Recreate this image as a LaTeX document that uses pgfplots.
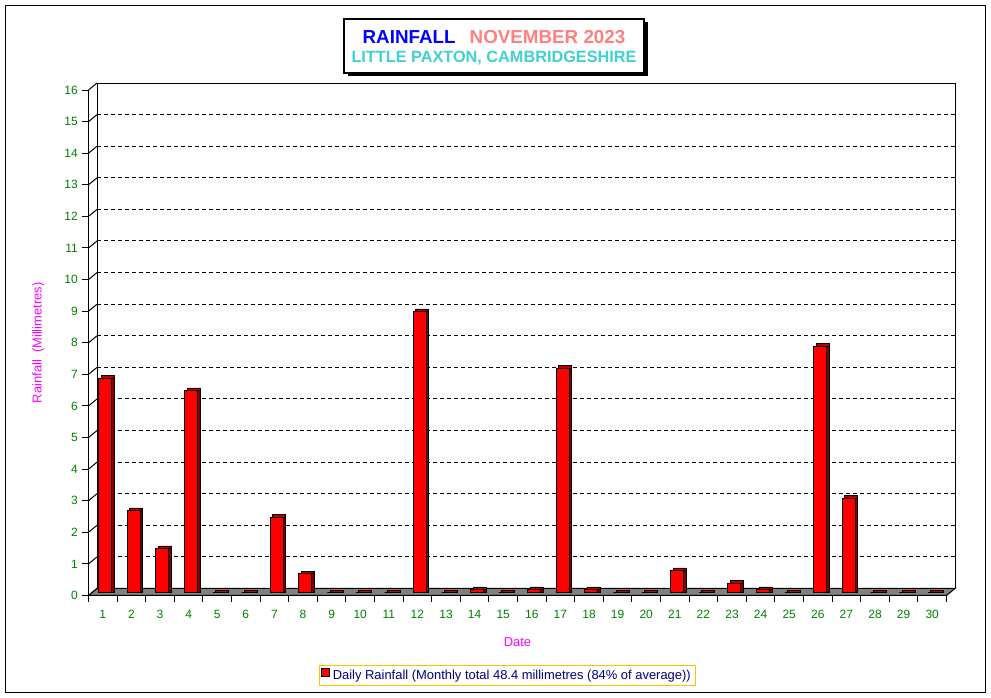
\documentclass[border=0pt]{standalone}
\usepackage{pgfplots}
\pgfplotsset{compat=1.18}
\usepackage{pgfplotstable}
\usepackage{fontspec}
\setmainfont{Liberation Sans}

\definecolor{tickgreen}{RGB}{0,128,0}
\definecolor{labmag}{RGB}{255,0,255}
\definecolor{sidered}{RGB}{128,0,0}
\definecolor{topred}{RGB}{190,0,0}
\definecolor{floorgrey}{RGB}{128,128,128}
\definecolor{ttlblue}{RGB}{0,0,255}
\definecolor{ttlpink}{RGB}{255,128,128}
\definecolor{ttlcyan}{RGB}{64,208,208}
\definecolor{legnavy}{RGB}{0,0,128}
\definecolor{leggold}{RGB}{255,192,0}

% daily rainfall, mm
\pgfplotstableread{
day rain
1  6.8
2  2.6
3  1.4
4  6.4
5  0
6  0
7  2.4
8  0.6
9  0
10 0
11 0
12 8.9
13 0
14 0.1
15 0
16 0.1
17 7.1
18 0.1
19 0
20 0
21 0.7
22 0
23 0.3
24 0.1
25 0
26 7.8
27 3.0
28 0
29 0
30 0
}\raintab

\begin{document}
\begin{tikzpicture}
\begin{scope}[x=0.75pt,y=0.75pt]
\path (0,0) rectangle (991,698);
\draw[line width=0.75pt] (5.5,692.5) rectangle (985,5.5);
% title box with shadow
\fill[black] (347.5,676) rectangle (647.5,622);
\draw[fill=white, line width=0.9pt] (344,679) rectangle (644,625);
\node[font=\bfseries\fontsize{14.1}{16}\selectfont] at (494,660.5)
  {\textcolor{ttlblue}{RAINFALL}\hspace{0.75em}\textcolor{ttlpink}{NOVEMBER 2023}};
\node[font=\bfseries\fontsize{12.2}{14}\selectfont, text=ttlcyan] at (494,639.5)
  {LITTLE PAXTON, CAMBRIDGESHIRE};
\end{scope}

\begin{axis}[
    scale only axis, width=643.5pt, height=379.1pt,
    at={(66.375pt,76.875pt)}, anchor=south west,
    xmin=0.5, xmax=30.5, ymin=0, ymax=16,
    clip=false,
    axis lines*=left,
    axis line style={line width=0.75pt},
    tick align=outside,
    major tick length=4.5pt, minor tick length=5.25pt,
    every tick/.style={black, line width=0.75pt},
    ytick={0,...,16},
    xtick={1,...,30},
    minor xtick={0.5,1.5,...,30.5},
    major x tick style={draw=none},
    /pgf/number format/assume math mode=true,
    tick label style={font=\fontsize{9}{10}\selectfont, text=tickgreen},
    xticklabel style={yshift=-3pt},
    xlabel={Date}, ylabel={Rainfall\ \ (Millimetres)},
    every axis x label/.style={at={(axis description cs:0.5,0)}, yshift=-34.9pt, anchor=center},
    every axis y label/.style={at={(axis description cs:0,0.5)}, xshift=-37.7pt, rotate=90, anchor=center},
    label style={font=\fontsize{9.7}{11}\selectfont, text=labmag},
    legend style={at={(axis description cs:0.4883,-0.1583)}, anchor=center,
        draw=leggold, line width=0.75pt, text=legnavy,
        font=\fontsize{9.7}{11}\selectfont, inner sep=1.5pt},
    legend image code/.code={\draw[fill=red, draw=black, line width=0.5pt] (0pt,-3pt) rectangle (6pt,3pt);},
]
% back wall, grid and tick stubs
\draw[line width=0.75pt] ([xshift=6.4pt,yshift=5.25pt]axis cs:0.5,0) -- ([xshift=6.4pt,yshift=5.25pt]axis cs:0.5,16)
   -- ([xshift=6.4pt,yshift=5.25pt]axis cs:30.5,16) -- ([xshift=6.4pt,yshift=5.25pt]axis cs:30.5,0);
\pgfplotsinvokeforeach{1,...,15}{
  \draw[line width=0.75pt, dash pattern=on 3pt off 2.25pt]
    ([xshift=6.4pt,yshift=5.25pt]axis cs:0.5,#1) -- ([xshift=6.4pt,yshift=5.25pt]axis cs:30.5,#1);
}
\pgfplotsinvokeforeach{0,...,16}{
  \draw[line width=0.75pt] (axis cs:0.5,#1) -- ([xshift=6.4pt,yshift=5.25pt]axis cs:0.5,#1);
}
% floor
\draw[fill=floorgrey, line width=0.75pt] (axis cs:0.5,0) -- (axis cs:30.5,0)
   -- ([xshift=6.4pt,yshift=5.25pt]axis cs:30.5,0) -- ([xshift=6.4pt,yshift=5.25pt]axis cs:0.5,0) -- cycle;

% bars: top face, side face, front face
\addplot[ybar, bar width=9.75pt, bar shift=3.675pt, yshift=2.025pt,
    fill=topred, draw=black, line width=0.55pt, forget plot]
    table[x=day, y expr=\thisrow{rain}+0.0854] {\raintab};
\addplot[ybar, bar width=9.75pt, bar shift=3.675pt, yshift=2.025pt,
    fill=sidered, draw=black, line width=0.55pt, forget plot]
    table[x=day, y=rain] {\raintab};
\addplot[ybar, bar width=9.75pt, bar shift=1.65pt, yshift=2.025pt,
    fill=red, draw=black, line width=0.55pt]
    table[x=day, y=rain] {\raintab};
\addlegendentry{Daily Rainfall (Monthly total 48.4 millimetres (84\% of average))}
\end{axis}
\end{tikzpicture}
\end{document}
